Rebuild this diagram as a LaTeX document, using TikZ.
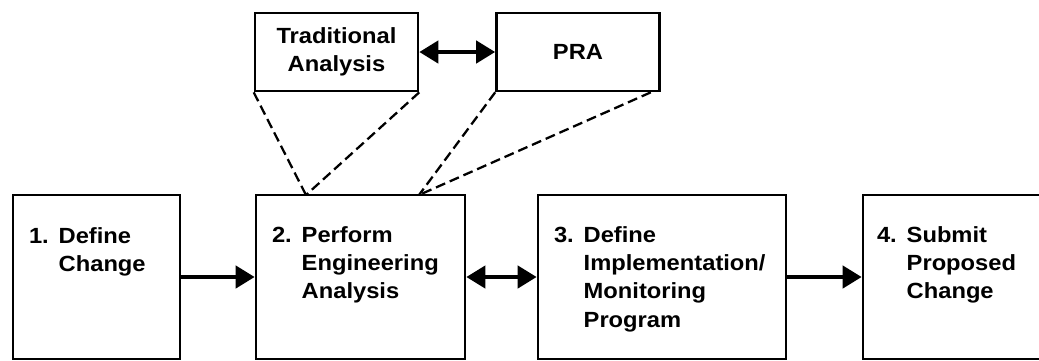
\documentclass[tikz,border=0pt]{standalone}
\usepackage{fontspec}
\setmainfont{Liberation Sans}[FakeStretch=1.08]
\usetikzlibrary{arrows.meta, calc, fit}
\newcommand{\boxfont}{\bfseries\fontsize{12.5}{16}\selectfont}

\begin{document}
\begin{tikzpicture}[
    x=0.02cm, y=-0.02cm,
    % Node styles
    stepbox/.style={rectangle, draw=black, line width=1.5pt, inner sep=0pt},
    sidebox/.style={stepbox, align=center, font=\boxfont, minimum width=3.26cm, minimum height=1.56cm},
    steptext/.style={anchor=base west, inner sep=0pt, font=\boxfont},
    arrow/.style={-{Triangle[length=0.38cm, width=0.44cm]}, line width=2.4pt},
    biarrow/.style={{Triangle[length=0.38cm, width=0.44cm]}-{Triangle[length=0.38cm, width=0.44cm]}, line width=2.4pt},
    link/.style={line width=1.3pt, dash pattern=on 0.2cm off 0.1cm},
]
\useasboundingbox (0,0) rectangle (1039,360);
\clip (0,0) rectangle (1039,360);

% === TOP: analysis inputs ===
\node[sidebox] (trad) at (336.5,52) {Traditional\\Analysis};
\node[sidebox] (pra) at (578,52) {PRA};

% === BOTTOM: process steps ===
\node[stepbox, fit={(13,195) (180,359)}] (define) {};
\node[stepbox, fit={(256,195) (465,359)}] (perform) {};
\node[stepbox, fit={(538,195) (786,359)}] (implement) {};
\node[stepbox, fit={(863,195) (1050,359)}] (submit) {};

% step labels, hanging under the number
\node[steptext] (definetext) at ($(define.north west)+(17,50)$)
    {1.\hspace{0.45em}\begin{tabular}[t]{@{}l@{}}Define\\Change\end{tabular}};
\node[steptext] (performtext) at ($(perform.north west)+(17,49)$)
    {2.\hspace{0.45em}\begin{tabular}[t]{@{}l@{}}Perform\\Engineering\\Analysis\end{tabular}};
\node[steptext] (implementtext) at ($(implement.north west)+(17,49)$)
    {3.\hspace{0.45em}\begin{tabular}[t]{@{}l@{}}Define\\Implementation/\\Monitoring\\Program\end{tabular}};
\node[steptext] (submittext) at ($(submit.north west)+(15,49)$)
    {4.\hspace{0.45em}\begin{tabular}[t]{@{}l@{}}Submit\\Proposed\\Change\end{tabular}};

% === Flow arrows ===
\draw[biarrow] (trad) -- (pra);
\draw[arrow] (define) -- (perform);
\draw[biarrow] (perform) -- (implement);
\draw[arrow] (implement) -- (submit);

% === Dashed links into step 2 ===
\coordinate (tradjoin) at (306,195);
\coordinate (prajoin) at (419,195);
\draw[link] (trad.south west) -- (tradjoin);
\draw[link] (trad.south east) -- (tradjoin);
\draw[link] (pra.south west) -- (prajoin);
\draw[link] ([xshift=-0.2cm]pra.south east) -- (prajoin);

\end{tikzpicture}
\end{document}
